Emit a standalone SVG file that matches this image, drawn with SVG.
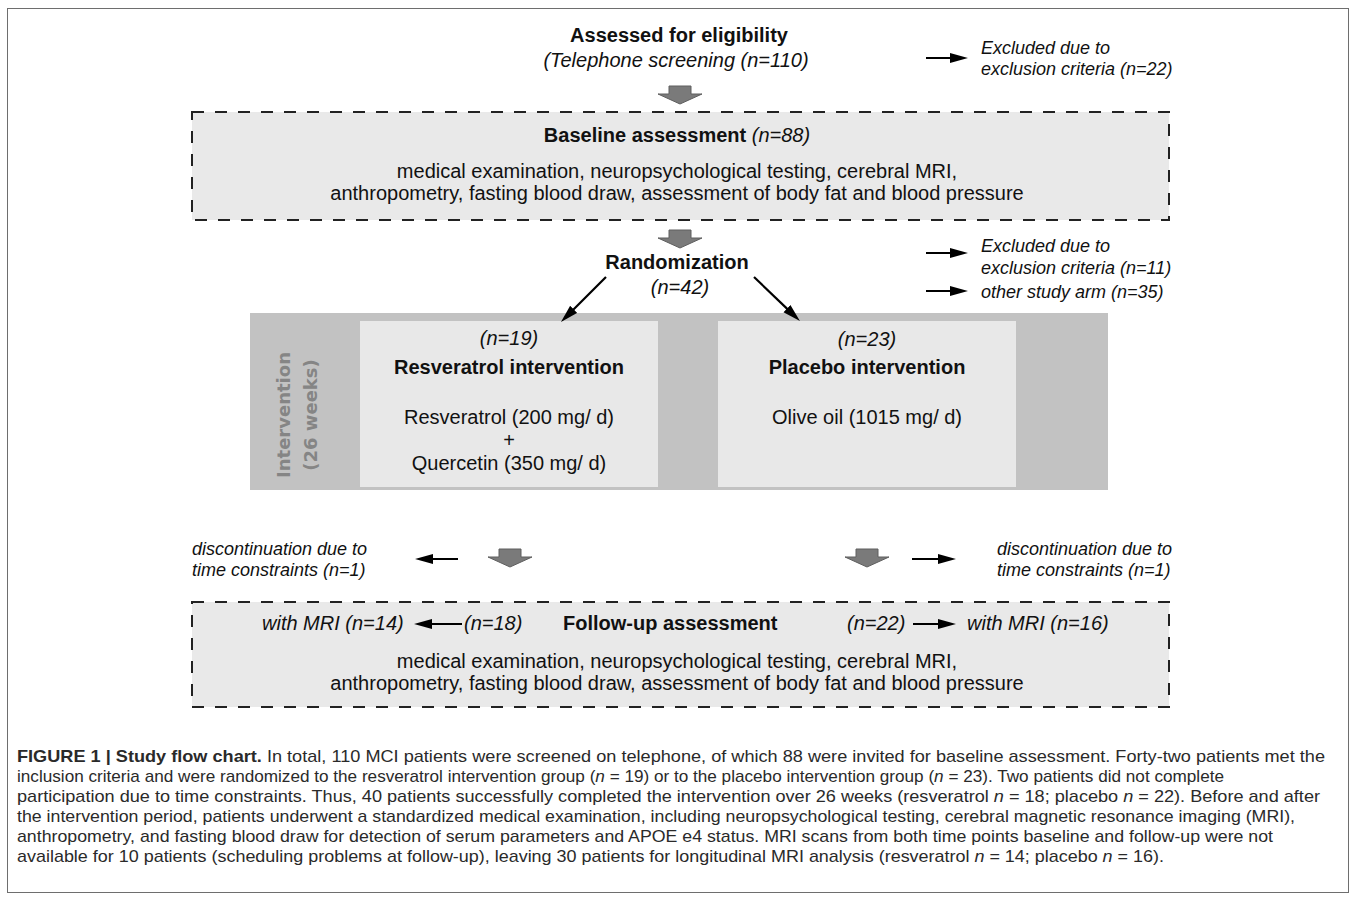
<svg xmlns="http://www.w3.org/2000/svg" width="1357" height="901" viewBox="0 0 1357 901">
<style>
text{font-family:"Liberation Sans",Arial,sans-serif;fill:#111;}
.t20{font-size:20px;}
.b{font-weight:bold;}
.i{font-style:italic;}
.s18{font-size:18px;font-style:italic;}
.dash{fill:#e9e9e9;stroke:#222;stroke-width:2;stroke-dasharray:12 11;}
.blk{fill:#7a7a7a;stroke:#5e5e5e;stroke-width:1;}
.arr{stroke:#000;stroke-width:2.2;fill:none;marker-end:url(#ah);}
.cap{font-size:17px;fill:#2a2a2a;}
.vert{font-family:"DejaVu Sans",sans-serif;font-weight:bold;font-size:18px;fill:#858585;}
</style>
<defs>
<marker id="ah" markerUnits="userSpaceOnUse" markerWidth="20" markerHeight="12" refX="12" refY="5" orient="auto">
<path d="M0,0 L18,5 L0,10 z" fill="#000"/>
</marker>
</defs>
<rect x="7.5" y="8.5" width="1341" height="884" fill="#fff" stroke="#6e6e6e" stroke-width="1"/>

<g id="assessed">
<text class="t20 b" x="679" y="42" text-anchor="middle">Assessed for eligibility</text>
<text class="t20 i" x="676" y="67" text-anchor="middle">(Telephone screening (n=110)</text>
</g>
<g id="excluded1">
<text class="s18" x="981" y="53.5">Excluded due to</text>
<text class="s18" x="981" y="75">exclusion criteria (n=22)</text>
</g>
<g id="baseline">
<rect class="dash" x="192" y="112" width="977" height="108"/>
<text class="t20" x="677" y="142" text-anchor="middle"><tspan class="b">Baseline assessment</tspan> <tspan class="i">(n=88)</tspan></text>
<text class="t20" x="677" y="178" text-anchor="middle">medical examination, neuropsychological testing, cerebral MRI,</text>
<text class="t20" x="677" y="200" text-anchor="middle">anthropometry, fasting blood draw, assessment of body fat and blood pressure</text>
</g>
<g id="randomization">
<text class="t20 b" x="677" y="269" text-anchor="middle">Randomization</text>
<text class="t20 i" x="680" y="294" text-anchor="middle">(n=42)</text>
</g>
<g id="excluded2">
<text class="s18" x="981" y="251.5">Excluded due to</text>
<text class="s18" x="981" y="273.5">exclusion criteria (n=11)</text>
<text class="s18" x="981" y="297.5">other study arm (n=35)</text>
</g>
<g id="intervention">
<rect x="250" y="313" width="858" height="177" fill="#c2c2c2"/>
<text class="vert" transform="translate(290,415) rotate(-90)" text-anchor="middle">Intervention</text>
<text class="vert" transform="translate(317,415) rotate(-90)" text-anchor="middle">(26 weeks)</text>
</g>
<g id="resveratrol">
<rect x="360" y="321" width="298" height="166" fill="#e8e8e8"/>
<text class="t20 i" x="509" y="345" text-anchor="middle">(n=19)</text>
<text class="t20 b" x="509" y="374" text-anchor="middle">Resveratrol intervention</text>
<text class="t20" x="509" y="424" text-anchor="middle">Resveratrol (200 mg/ d)</text>
<text class="t20" x="509" y="447" text-anchor="middle">+</text>
<text class="t20" x="509" y="470" text-anchor="middle">Quercetin (350 mg/ d)</text>
</g>
<g id="placebo">
<rect x="718" y="321" width="298" height="166" fill="#e8e8e8"/>
<text class="t20 i" x="867" y="346" text-anchor="middle">(n=23)</text>
<text class="t20 b" x="867" y="374" text-anchor="middle">Placebo intervention</text>
<text class="t20" x="867" y="424" text-anchor="middle">Olive oil (1015 mg/ d)</text>
</g>
<g id="discontinuation-left">
<text class="s18" x="192" y="554.5">discontinuation due to</text>
<text class="s18" x="192" y="575.5">time constraints (n=1)</text>
</g>
<g id="discontinuation-right">
<text class="s18" x="997" y="554.5">discontinuation due to</text>
<text class="s18" x="997" y="575.5">time constraints (n=1)</text>
</g>
<g id="followup">
<rect class="dash" x="192" y="602" width="977" height="105"/>
<text class="t20 i" x="262" y="630">with MRI (n=14)</text>
<text class="t20 i" x="464" y="630">(n=18)</text>
<text class="t20 b" x="563" y="630">Follow-up assessment</text>
<text class="t20 i" x="847" y="630">(n=22)</text>
<text class="t20 i" x="967" y="630">with MRI (n=16)</text>
<text class="t20" x="677" y="668" text-anchor="middle">medical examination, neuropsychological testing, cerebral MRI,</text>
<text class="t20" x="677" y="690" text-anchor="middle">anthropometry, fasting blood draw, assessment of body fat and blood pressure</text>
</g>
<g id="connectors">
<path class="blk" d="M669,86 h22 v8 h11 l-22,10 l-22,-10 h11 z"/>
<path class="blk" d="M669,230 h22 v8 h11 l-22,10 l-22,-10 h11 z"/>
<path class="blk" d="M499,549 h22 v8 h11 l-22,10 l-22,-10 h11 z"/>
<path class="blk" d="M856,549 h22 v8 h11 l-22,10 l-22,-10 h11 z"/>
<line class="arr" x1="926" y1="58" x2="962" y2="58"/>
<line class="arr" x1="926" y1="253" x2="962" y2="253"/>
<line class="arr" x1="926" y1="291" x2="962" y2="291"/>
<line class="arr" x1="606" y1="277" x2="565.2" y2="317.8"/>
<line class="arr" x1="754" y1="277" x2="795.6" y2="316.9"/>
<line class="arr" x1="458" y1="559" x2="421" y2="559"/>
<line class="arr" x1="912" y1="559" x2="950" y2="559"/>
<line class="arr" x1="462" y1="624" x2="420" y2="624"/>
<line class="arr" x1="913" y1="624" x2="950" y2="624"/>
</g>
<g id="caption">
<text class="cap" x="17" y="762" textLength="1308" lengthAdjust="spacingAndGlyphs"><tspan font-weight="bold">FIGURE 1 | Study flow chart.</tspan> In total, 110 MCI patients were screened on telephone, of which 88 were invited for baseline assessment. Forty-two patients met the</text>
<text class="cap" x="17" y="782" textLength="1207" lengthAdjust="spacingAndGlyphs">inclusion criteria and were randomized to the resveratrol intervention group (<tspan font-style="italic">n</tspan> = 19) or to the placebo intervention group (<tspan font-style="italic">n</tspan> = 23). Two patients did not complete</text>
<text class="cap" x="17" y="802" textLength="1303" lengthAdjust="spacingAndGlyphs">participation due to time constraints. Thus, 40 patients successfully completed the intervention over 26 weeks (resveratrol <tspan font-style="italic">n</tspan> = 18; placebo <tspan font-style="italic">n</tspan> = 22). Before and after</text>
<text class="cap" x="17" y="822" textLength="1278" lengthAdjust="spacingAndGlyphs">the intervention period, patients underwent a standardized medical examination, including neuropsychological testing, cerebral magnetic resonance imaging (MRI),</text>
<text class="cap" x="17" y="842" textLength="1256" lengthAdjust="spacingAndGlyphs">anthropometry, and fasting blood draw for detection of serum parameters and APOE e4 status. MRI scans from both time points baseline and follow-up were not</text>
<text class="cap" x="17" y="862" textLength="1147" lengthAdjust="spacingAndGlyphs">available for 10 patients (scheduling problems at follow-up), leaving 30 patients for longitudinal MRI analysis (resveratrol <tspan font-style="italic">n</tspan> = 14; placebo <tspan font-style="italic">n</tspan> = 16).</text>
</g>
</svg>
